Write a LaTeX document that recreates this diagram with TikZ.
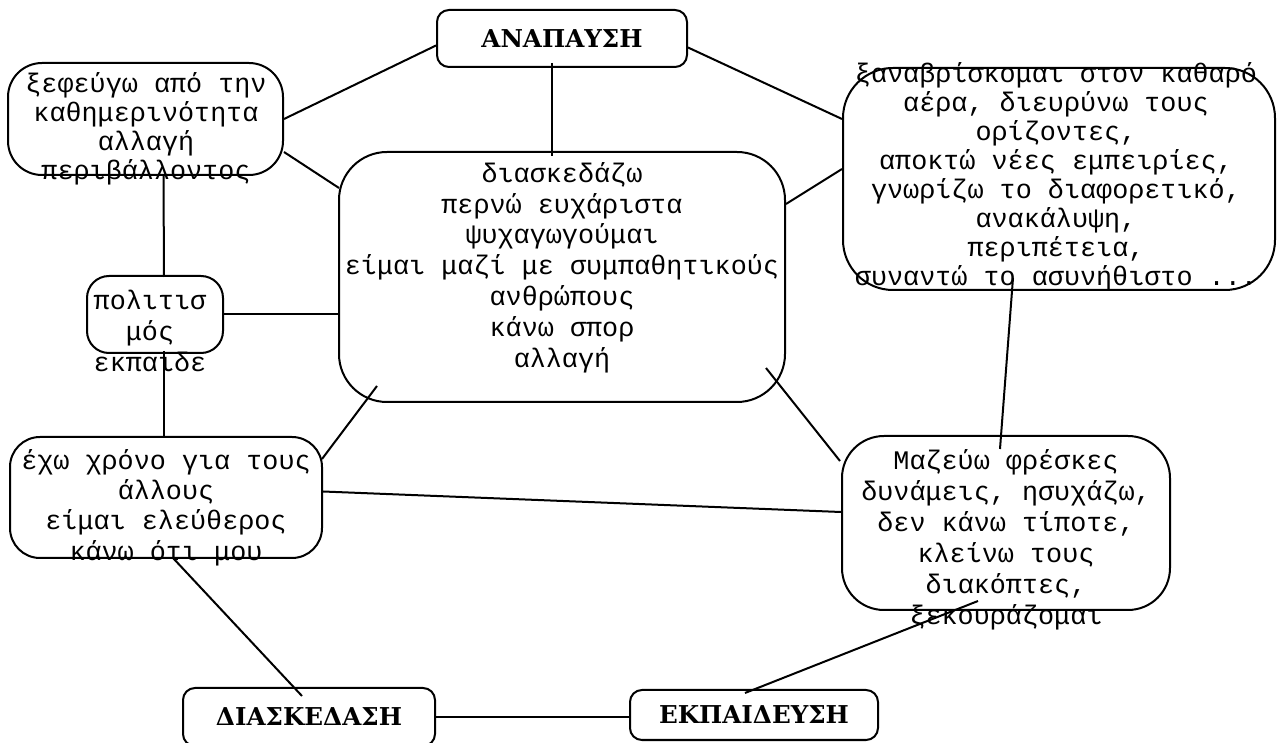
\documentclass[tikz,border=0pt]{standalone}
\usepackage{fontspec}
\newfontfamily\monofont{Liberation Mono}
\newfontfamily\headfont{DejaVu Serif}
\usetikzlibrary{calc,fit}
\tikzset{
  bubble/.style={draw,line width=1pt,inner sep=0pt,rounded corners=#1},
  bubble/.default=15pt,
  txt/.style={font=\monofont\fontsize{13.4}{#1}\selectfont,align=center,inner sep=0pt},
  txt/.default=15,
  head/.style={bubble=6pt,font=\headfont\bfseries\fontsize{12.3}{14}\selectfont},
  link/.style={line width=1pt}
}
\begin{document}
\begin{tikzpicture}[x=0.5pt,y=-0.5pt]
\useasboundingbox (0,0) rectangle (1282,743);
\foreach \n/\t/\x/\y/\w/\h in {anap/ΑΝΑΠΑΥΣΗ/562/38.5/125/28.5,
    disk/ΔΙΑΣΚΕΔΑΣΗ/309/717/126/29, educ/ΕΚΠΑΙΔΕΥΣΗ/754/715/124/25}{
  \node[head,minimum width=\w pt,minimum height=\h pt] (\n) at (\x,\y) {\t};}
\node[bubble=17pt,fit={(8,63) (283,175)}] (escape) {};
\node[bubble=25pt,fit={(843,68) (1275,290)}] (fresh) {};
\node[bubble=24pt,fit={(339,152) (785,402)}] (centre) {};
\node[bubble=11pt,fit={(87,276) (223,353)}] (polit) {};
\node[bubble=15pt,fit={(10,437) (322,558)}] (leisure) {};
\node[bubble=21pt,fit={(842,436) (1170,610)}] (rest) {};
\node[txt=14.5] (escapetxt) at (146,128.5) {ξεφεύγω από την\\καθημερινότητα\\αλλαγή\\περιβάλλοντος};
\node[txt=14.5] (freshtxt) at (1056,176.5) {ξαναβρίσκομαι στον καθαρό\\αέρα, διευρύνω τους\\ορίζοντες,\\αποκτώ νέες εμπειρίες,\\γνωρίζω το διαφορετικό,\\ανακάλυψη,\\περιπέτεια,\\συναντώ το ασυνήθιστο ...};
\node[txt=15.4] (centretxt) at (562,267.5) {διασκεδάζω\\περνώ ευχάριστα\\ψυχαγωγούμαι\\είμαι μαζί με συμπαθητικούς\\ανθρώπους\\κάνω σπορ\\αλλαγή};
\node[txt=15.5] (polittxt) at (150,331) {πολιτισ\\μός\\εκπαιδε};
\node[txt=15.2] (leisuretxt) at (166,507.5) {έχω χρόνο για τους\\άλλους\\είμαι ελεύθερος\\κάνω ότι μου};
\node[txt=15.5] (resttxt) at (1006,539.5) {Μαζεύω φρέσκες\\δυνάμεις, ησυχάζω,\\δεν κάνω τίποτε,\\κλείνω τους\\διακόπτες,\\ξεκουράζομαι};
\draw[link] ($(anap.west)+(0,7)$) -- (escape.east);
\draw[link] ($(anap.east)+(0,9)$) -- ($(fresh.north west)+(0,52)$);
\draw[link] ($(anap.south)+(-10,-5)$) -- ($(centre.north)+(-10,5)$);
\draw[link] ($(escape.east)+(0,33)$) -- ($(centre.north west)+(1,37)$);
\draw[link] ($(centre.north east)+(0,53)$) -- ($(fresh.north west)+(0,102)$);
\draw[link] ($(escape.south)+(18,0)$) -- ($(polit.north)+(9,2)$);
\draw[link] ($(polit.south)+(9,-3)$) -- ($(leisure.north)+(-2,0)$);
\draw[link] (polit.east) -- (polit.east -| centre.west);
\draw[link] ($(centre.south west)+(39,-17)$) -- ($(leisure.north east)+(-1,23)$);
\draw[link] ($(centre.south east)+(-20,-35)$) -- ($(rest.north west)+(-1,26)$);
\draw[link] ($(leisure.east)+(0,-6)$) -- ($(rest.west)+(0,-11)$);
\draw[link] ($(fresh.south)+(-46,-13)$) -- ($(rest.north)+(-6,14)$);
\draw[link] ($(leisure.south)+(7,-1)$) -- ($(disk.north)+(-7,9)$);
\draw[link] (disk.east) -- (disk.east -| educ.west);
\draw[link] ($(educ.north)+(-9,4)$) -- ($(rest.south)+(-28,-10)$);
\end{tikzpicture}
\end{document}
